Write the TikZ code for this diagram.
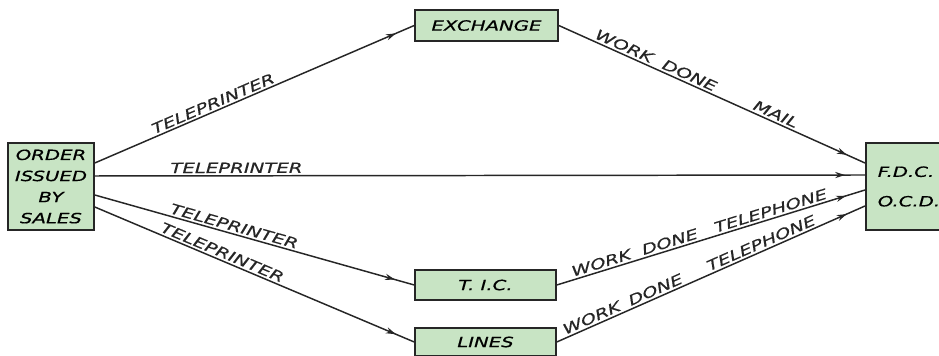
\documentclass[tikz,border=0pt]{standalone}
\usepackage{fontspec}
\setmainfont{DejaVu Sans}
\newfontfamily\stencil{DejaVu Sans}[FakeStretch=1.4,FakeBold=0.6]
\usetikzlibrary{arrows.meta, decorations.markings}

\definecolor{boxgreen}{RGB}{200,228,196}
\definecolor{ink}{RGB}{38,38,38}

\begin{document}
\begin{tikzpicture}[>=Stealth, font=\stencil\itshape\fontsize{10}{15}\selectfont,
    box/.style={draw=ink, line width=1.1pt, fill=boxgreen, inner sep=2pt, align=center},
    flow/.style={draw=ink, line width=1.05pt, postaction={decorate},
        decoration={markings, mark=at position -0.5cm with {\arrow{Stealth[length=7pt,width=4.4pt]}}}},
    lbl/.style={sloped, above, inner sep=1.5pt, text=ink}]
	\useasboundingbox (0,0) rectangle (23.475,8.9);

	% offices
	\node[box, minimum width=2.15cm, minimum height=2.175cm] (order) at (1.275,4.2375) {ORDER\\ISSUED\\BY\\SALES};
	\node[box, minimum width=3.575cm, minimum height=0.775cm] (exch) at (12.1625,8.2625) {EXCHANGE};
	\node[box, minimum width=3.525cm, minimum height=0.75cm] (tic) at (12.1375,1.775) {T. I.C.};
	\node[box, minimum width=3.525cm, minimum height=0.7cm] (lines) at (12.1375,0.35) {LINES};
	\node[box, anchor=west, text width=2.4cm, inner xsep=0.3cm, align=left, minimum height=2.175cm] (fdc) at (21.625,4.2375) {F.D.C.\\[6pt]O.C.D.};

	% teleprinter orders
	\draw[flow] ([yshift=0.5875cm]order.east) -- node[lbl, pos=0.38] {TELEPRINTER} (exch.west);
	\draw[flow] ([yshift=0.2625cm]order.east) -- node[lbl, pos=0.184] {TELEPRINTER} ([yshift=0.2875cm]fdc.west);
	\draw[flow] ([yshift=-0.2125cm]order.east) -- node[lbl, pos=0.43] {TELEPRINTER} (tic.west);
	\draw[flow] ([yshift=-0.5125cm]order.east) -- node[lbl, pos=0.39] {TELEPRINTER} (lines.west);

	% work done returns
	\draw[flow] (exch.east) -- node[lbl, pos=0.44] {WORK\hspace{0.3cm}DONE\hspace{1.05cm}MAIL} ([yshift=0.5875cm]fdc.west);
	\draw[flow] (tic.east) -- node[lbl, pos=0.47] {WORK\hspace{0.3cm}DONE\hspace{0.45cm}TELEPHONE} ([yshift=-0.0875cm]fdc.west);
	\draw[flow] (lines.east) -- node[lbl, pos=0.44] {WORK\hspace{0.25cm}DONE\hspace{0.7cm}TELEPHONE} ([yshift=-0.4875cm]fdc.west);
\end{tikzpicture}
\end{document}
